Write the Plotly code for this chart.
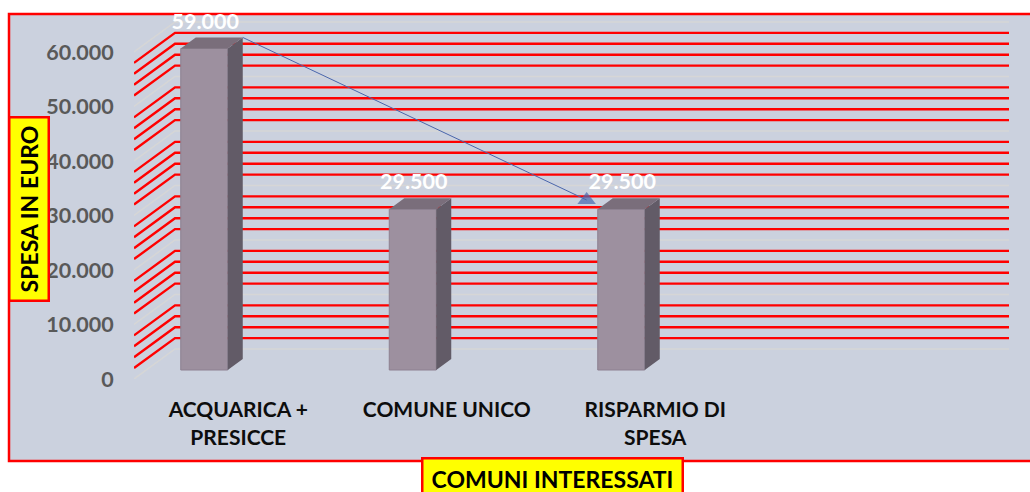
import plotly.graph_objects as go

# chart values
CATEGORIES = ["ACQUARICA +<br>PRESICCE", "COMUNE UNICO", "RISPARMIO DI<br>SPESA"]
VALUES = [59000, 29500, 29500]
TICKS = [0, 10000, 20000, 30000, 40000, 50000, 60000]
MINOR = [v for v in range(2000, 60000, 2000) if v % 10000 != 0]

FONT = "Lato, Carlito, Calibri, sans-serif"
RED = "#ff0000"
PANEL = "#cbd1de"

W, H = 1030, 492
L, R, T, B = 134, 0, 14, 113  # margins, px
PX_PER_SLOT = 208.5
PX_PER_VALUE = 5.45 / 1000

# fake 3D: the wall is pushed back by this much, the bars by a part of it
WALL_DX, WALL_DY = 41 / PX_PER_SLOT, 30 / PX_PER_VALUE
BAR_DX, BAR_DY = 15 / PX_PER_SLOT, 11 / PX_PER_VALUE
BAR_SHIFT = -34 / PX_PER_SLOT
BAR_BASE = 9 / PX_PER_VALUE
BAR_W = 47 / PX_PER_SLOT

X_MIN = -0.5
X_END = X_MIN + 4 + WALL_DX  # gridlines stop here
X_MAX = X_MIN + (W - L) / PX_PER_SLOT
Y_MAX = (H - B - T) / PX_PER_VALUE

ARROW_TIP = (1.671, 32840)


def px(x, y):
    """pixel position to paper coordinates of the plot area"""
    return (x - L) / (W - L - R), (H - B - y) / (H - B - T)


def gridline(v, color, width):
    path = (f"M {X_MIN} {v} L {X_MIN + WALL_DX} {v + WALL_DY} "
            f"L {X_END} {v + WALL_DY}")
    return dict(type="path", path=path, layer="below",
                line=dict(color=color, width=width))


fig = go.Figure()

bar_x = [i + BAR_SHIFT for i in range(len(VALUES))]

fig.add_trace(go.Bar(
    x=bar_x, y=VALUES, base=BAR_BASE, width=BAR_W,
    marker=dict(color="#9d909f", line=dict(color="#8d8090", width=1)),
    hoverinfo="skip",
))

side_x, side_y, top_x, top_y = [], [], [], []
for x, v in zip(bar_x, VALUES):
    x1 = x + BAR_W / 2
    x0 = x - BAR_W / 2
    y1 = v + BAR_BASE
    side_x += [x1, x1 + BAR_DX, x1 + BAR_DX, x1, x1, None]
    side_y += [BAR_BASE, BAR_BASE + BAR_DY, y1 + BAR_DY, y1, BAR_BASE, None]
    top_x += [x0, x0 + BAR_DX, x1 + BAR_DX, x1, x0, None]
    top_y += [y1, y1 + BAR_DY, y1 + BAR_DY, y1, y1, None]

fig.add_trace(go.Scatter(x=side_x, y=side_y, mode="lines", fill="toself",
                         fillcolor="#625b67", line=dict(width=0),
                         hoverinfo="skip"))
fig.add_trace(go.Scatter(x=top_x, y=top_y, mode="lines", fill="toself",
                         fillcolor="#7a6e7b", line=dict(width=0),
                         hoverinfo="skip"))

# data labels
fig.add_trace(go.Scatter(
    x=[x + 0.005 for x in bar_x],
    y=[v + 6300 for v in VALUES],
    mode="text",
    text=[f"{v:,}".replace(",", ".") for v in VALUES],
    textposition="middle center",
    textfont=dict(family=FONT, size=21.5, color="white", weight="bold"),
    hoverinfo="skip",
))

# arrow from the first bar to the third one
fig.add_trace(go.Scatter(
    x=[bar_x[0] + BAR_W / 2 + BAR_DX, ARROW_TIP[0]],
    y=[VALUES[0] + BAR_BASE + BAR_DY, ARROW_TIP[1]],
    mode="lines+markers",
    line=dict(color="#4a66ac", width=1),
    marker=dict(symbol="triangle-up", size=[0, 16], color="#4568b0",
                line=dict(width=0)),
    hoverinfo="skip",
))

shapes = []
x0, y0 = px(9, 14)
x1, y1 = px(W + 10, 461)
shapes.append(dict(type="rect", xref="paper", yref="paper", layer="below",
                   x0=x0, y0=y0, x1=x1, y1=y1, fillcolor=PANEL,
                   line=dict(color=RED, width=2.5)))
for v in TICKS:
    shapes.append(gridline(v, "#d6d6d6", 1.5))
for v in MINOR:
    shapes.append(gridline(v, RED, 2.4))

lx, ly = px(28.5, 209.5)
bx, by = px(552, 478)
box = dict(xref="paper", yref="paper", showarrow=False, bgcolor="#ffff00",
           xanchor="center", yanchor="middle",
           bordercolor=RED, borderwidth=2.5, borderpad=0,
           font=dict(family=FONT, size=23, color="black", weight="bold"))
annotations = [
    dict(x=lx, y=ly, text="SPESA IN EURO", textangle=-90,
         width=181, height=37, **box),
    dict(x=bx, y=by, text="COMUNI INTERESSATI",
         width=258, height=38, **box),
]

fig.update_layout(
    width=W, height=H,
    margin=dict(l=L, r=R, t=T, b=B, pad=0),
    paper_bgcolor="white",
    plot_bgcolor="rgba(0,0,0,0)",
    separators=",.",
    showlegend=False,
    shapes=shapes,
    annotations=annotations,
    xaxis=dict(
        range=[X_MIN, X_MAX],
        tickmode="array", tickvals=list(range(len(CATEGORIES))),
        ticktext=CATEGORIES,
        ticks="outside", ticklen=12, tickcolor="rgba(0,0,0,0)",
        tickangle=0,
        tickfont=dict(family=FONT, size=21, color="#0d0d0d", weight="bold"),
        showgrid=False, zeroline=False, showline=False,
    ),
    yaxis=dict(
        range=[0, Y_MAX],
        tickmode="array", tickvals=TICKS, tickformat=",d",
        ticks="outside", ticklen=15, tickcolor="rgba(0,0,0,0)",
        tickfont=dict(family=FONT, size=21.5, color="#595959", weight="bold"),
        showgrid=False, zeroline=False, showline=False,
    ),
)

fig.write_html("out.html", config={"displayModeBar": False},
               post_script="document.body.style.margin='0';")
